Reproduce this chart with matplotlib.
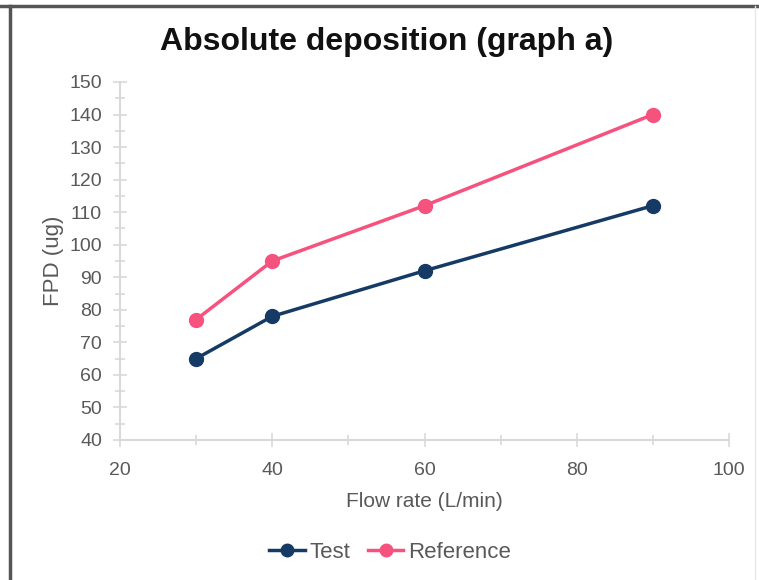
import matplotlib
matplotlib.use("Agg")
import matplotlib.pyplot as plt
from matplotlib.lines import Line2D
from matplotlib.ticker import MultipleLocator

plt.rcParams["font.family"] = "sans-serif"
plt.rcParams["font.sans-serif"] = ["Liberation Sans", "DejaVu Sans"]

# Data
flow_rate = [30, 40, 60, 90]
test_fpd = [65, 78, 92, 112]
reference_fpd = [77, 95, 112, 140]

TEST_COLOR = "#163a66"
REF_COLOR = "#f6527e"
AXIS_COLOR = "#d9d9d9"
TEXT_COLOR = "#595959"

fig = plt.figure(figsize=(7.59, 5.80), dpi=100)
ax = fig.add_axes([120 / 759, 1 - 440 / 580, (729 - 120) / 759, (440 - 82) / 580])

ax.plot(flow_rate, test_fpd, color=TEST_COLOR, lw=2.5, marker="o", ms=10,
        label="Test", clip_on=False)
ax.plot(flow_rate, reference_fpd, color=REF_COLOR, lw=2.5, marker="o", ms=10,
        label="Reference", clip_on=False)

ax.set_xlim(20, 100)
ax.set_ylim(40, 150)
ax.xaxis.set_major_locator(MultipleLocator(20))
ax.xaxis.set_minor_locator(MultipleLocator(10))
ax.yaxis.set_major_locator(MultipleLocator(10))
ax.yaxis.set_minor_locator(MultipleLocator(5))

for side in ["top", "right"]:
    ax.spines[side].set_visible(False)
for side in ["left", "bottom"]:
    ax.spines[side].set_color(AXIS_COLOR)
    ax.spines[side].set_linewidth(1.5)

ax.tick_params(which="both", direction="inout", color=AXIS_COLOR, width=1.2)
ax.tick_params(which="major", length=10, labelsize=14, labelcolor=TEXT_COLOR)
ax.tick_params(which="minor", length=7)
ax.tick_params(axis="x", which="major", pad=11)
ax.tick_params(axis="y", which="major", pad=8)

ax.set_xlabel("Flow rate (L/min)", fontsize=15, color=TEXT_COLOR, labelpad=9)
ax.set_ylabel("FPD (ug)", fontsize=16, color=TEXT_COLOR, labelpad=4)

fig.text(387 / 759, 1 - 42 / 580, "Absolute deposition (graph a)", ha="center",
         va="center", fontsize=23, fontweight="bold", color="#111111")

ax.legend(loc="center", bbox_to_anchor=(390 / 759, 1 - 552 / 580),
          bbox_transform=fig.transFigure, ncol=2, frameon=False, fontsize=16,
          labelcolor=TEXT_COLOR, handlelength=1.6, handletextpad=0.2,
          columnspacing=0.8, markerscale=0.9)

# outer frame of the screenshot
fig.add_artist(Line2D([0, 1], [1 - 6 / 580] * 2, color="#555555", lw=2.5))
fig.add_artist(Line2D([10 / 759] * 2, [0, 1 - 6 / 580], color="#555555", lw=2.5))
fig.add_artist(Line2D([755 / 759] * 2, [0, 1 - 6 / 580], color="#e6e6e6", lw=1))

fig.savefig("out.png", dpi=100)
